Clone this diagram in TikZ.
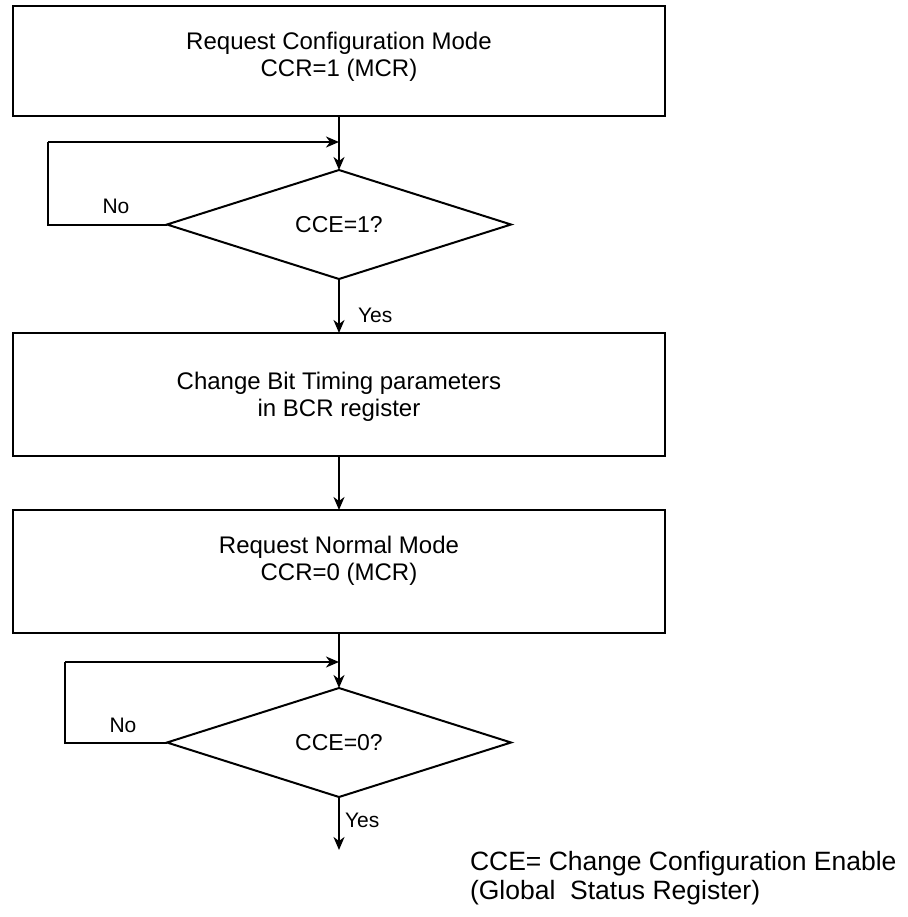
\documentclass[tikz,border=0pt]{standalone}
\usepackage{fontspec}
\setmainfont{Liberation Sans}
\usetikzlibrary{shapes.geometric,arrows.meta}
\begin{document}
\begin{tikzpicture}[x=0.5pt,y=-0.5pt,
  every node/.style={inner sep=0pt, outer sep=0pt},
  procbox/.style={draw, line width=1pt, rectangle, minimum width=326pt},
  decision/.style={draw, line width=1pt, diamond, aspect=3,
    minimum width=172pt, minimum height=54.5pt,
    font=\fontsize{11.5}{13}\selectfont},
  boxtext/.style={font=\fontsize{12}{13.5}\selectfont, align=center},
  lbl/.style={font=\fontsize{10.5}{12}\selectfont},
  note/.style={font=\fontsize{13.25}{15}\selectfont, anchor=west},
  flow/.style={line width=1pt, -{Stealth[length=6.5pt,width=5.5pt,inset=2pt]}},
  wire/.style={line width=1pt}
]
\useasboundingbox (0,0) rectangle (908,917);

% process boxes
\node[procbox, minimum height=55pt]   (b1) at (339,61) {};
\node[boxtext] (t1) at (339,56.5) {Request Configuration Mode\\CCR=1 (MCR)};

\node[procbox, minimum height=61.5pt] (b2) at (339,394.5) {};
\node[boxtext] (t2) at (339,396.5) {Change Bit Timing parameters\\in BCR register};

\node[procbox, minimum height=61.5pt] (b3) at (339,571.5) {};
\node[boxtext] (t3) at (339,560.5) {Request Normal Mode\\CCR=0 (MCR)};

% decisions
\node[decision] (d1) at (339,224.5) {CCE=1?};
\node[decision] (d2) at (339,742.5) {CCE=0?};

% loop corners and joins
\coordinate (j1) at (339,142);
\coordinate (c1) at (48,142);
\coordinate (j2) at (339,662);
\coordinate (c2) at (65,662);
\coordinate (fin) at (339,850);

% main flow
\draw[flow] (b1.south) -- (d1.north);
\draw[flow] (d1.south) -- (b2.north);
\draw[flow] (b2.south) -- (b3.north);
\draw[flow] (b3.south) -- (d2.north);
\draw[flow] (d2.south) -- (fin);

% retry loops
\draw[wire] (d1.west) -| (c1);
\draw[flow] (c1) -- (j1);
\draw[wire] (d2.west) -| (c2);
\draw[flow] (c2) -- (j2);

% branch labels
\node[lbl] (no1) at (116,206) {No};
\node[lbl, anchor=west] (yes1) at (358,315) {Yes};
\node[lbl] (no2) at (123,725) {No};
\node[lbl, anchor=west] (yes2) at (345,820) {Yes};

% legend
\node[note] (n1) at (470,864) {CCE= Change Configuration Enable};
\node[note] (n2) at (470,893) {(Global\ \ Status Register)};
\end{tikzpicture}
\end{document}
